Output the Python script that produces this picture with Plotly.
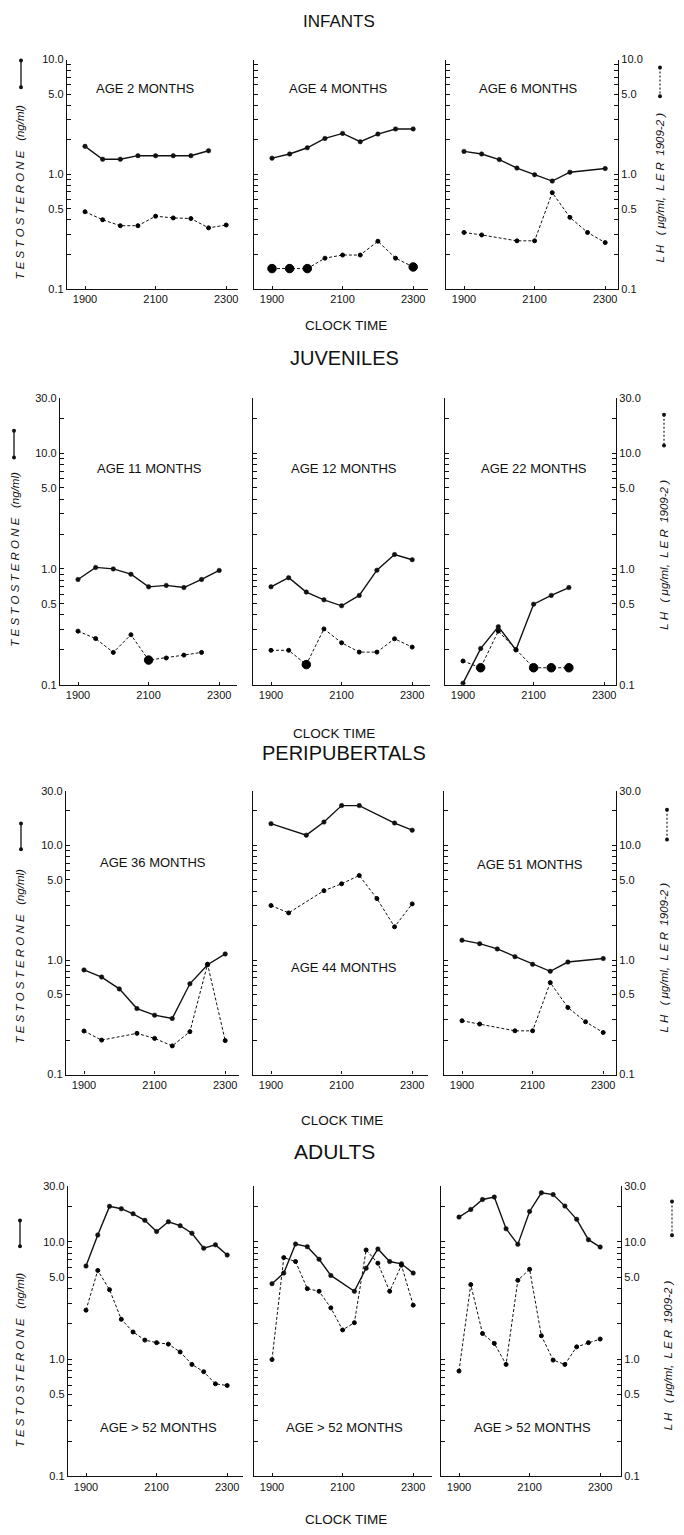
import math
import plotly.graph_objects as go

W, H = 684, 1535

# ---------------- data (clock times hhmm, values) ----------------
HALF = [1900, 1930, 2000, 2030, 2100, 2130, 2200, 2230, 2300]
TWENTY = [1900, 1920, 1940, 2000, 2020, 2040, 2100, 2120, 2140, 2200, 2220, 2240, 2300]

row_titles = ["INFANTS", "JUVENILES", "PERIPUBERTALS", "ADULTS"]
age_labels = [
    ["AGE 2 MONTHS", "AGE 4 MONTHS", "AGE 6 MONTHS"],
    ["AGE 11 MONTHS", "AGE 12 MONTHS", "AGE 22 MONTHS"],
    ["AGE 36 MONTHS", "AGE 44 MONTHS", "AGE 51 MONTHS"],
    ["AGE > 52 MONTHS", "AGE > 52 MONTHS", "AGE > 52 MONTHS"],
]

# Infants
inf2_t_time = [1900, 1930, 2000, 2030, 2100, 2130, 2200, 2230]
inf2_t = [1.75, 1.35, 1.35, 1.45, 1.45, 1.45, 1.45, 1.6]
inf2_lh_time = HALF
inf2_lh = [0.47, 0.40, 0.355, 0.355, 0.43, 0.415, 0.41, 0.34, 0.36]
inf2_lh_nd = []

inf4_t_time = HALF
inf4_t = [1.38, 1.5, 1.7, 2.05, 2.27, 1.92, 2.24, 2.48, 2.48]
inf4_lh_time = HALF
inf4_lh = [0.15, 0.15, 0.15, 0.185, 0.197, 0.197, 0.26, 0.185, 0.155]
inf4_lh_nd = [1900, 1930, 2000, 2300]

inf6_t_time = [1900, 1930, 2000, 2030, 2100, 2130, 2200, 2300]
inf6_t = [1.58, 1.5, 1.34, 1.13, 0.99, 0.87, 1.04, 1.12]
inf6_lh_time = [1900, 1930, 2030, 2100, 2130, 2200, 2230, 2300]
inf6_lh = [0.31, 0.295, 0.262, 0.262, 0.69, 0.42, 0.31, 0.253]
inf6_lh_nd = []

# Juveniles
juv11_t_time = HALF
juv11_t = [0.81, 1.03, 1.0, 0.9, 0.7, 0.72, 0.69, 0.81, 0.97]
juv11_lh_time = [1900, 1930, 2000, 2030, 2100, 2130, 2200, 2230]
juv11_lh = [0.29, 0.25, 0.19, 0.27, 0.163, 0.17, 0.18, 0.19]
juv11_lh_nd = [2100]

juv12_t_time = HALF
juv12_t = [0.70, 0.84, 0.63, 0.54, 0.48, 0.59, 0.975, 1.33, 1.2]
juv12_lh_time = HALF
juv12_lh = [0.198, 0.198, 0.149, 0.303, 0.23, 0.191, 0.191, 0.249, 0.211]
juv12_lh_nd = [2000]

juv22_t_time = [1900, 1930, 2000, 2030, 2100, 2130, 2200]
juv22_t = [0.103, 0.205, 0.317, 0.2, 0.496, 0.59, 0.69]
juv22_lh_time = [1900, 1930, 2000, 2030, 2100, 2130, 2200]
juv22_lh = [0.16, 0.14, 0.29, 0.2, 0.14, 0.14, 0.14]
juv22_lh_nd = [1930, 2100, 2130, 2200]

# Peripubertals
per36_t_time = HALF
per36_t = [0.82, 0.71, 0.56, 0.377, 0.33, 0.309, 0.62, 0.91, 1.13]
per36_lh_time = [1900, 1930, 2030, 2100, 2130, 2200, 2230, 2300]
per36_lh = [0.24, 0.20, 0.229, 0.207, 0.178, 0.237, 0.92, 0.198]
per36_lh_nd = []

per44_t_time = [1900, 2000, 2030, 2100, 2130, 2230, 2300]
per44_t = [15.5, 12.3, 16.0, 22.3, 22.3, 15.7, 13.6]
per44_lh_time = [1900, 1930, 2030, 2100, 2130, 2200, 2230, 2300]
per44_lh = [2.99, 2.58, 4.03, 4.63, 5.47, 3.44, 1.95, 3.09]
per44_lh_nd = []

per51_t_time = [1900, 1930, 2000, 2030, 2100, 2130, 2200, 2300]
per51_t = [1.49, 1.39, 1.25, 1.07, 0.917, 0.797, 0.96, 1.03]
per51_lh_time = [1900, 1930, 2030, 2100, 2130, 2200, 2230, 2300]
per51_lh = [0.295, 0.276, 0.241, 0.241, 0.635, 0.385, 0.289, 0.233]
per51_lh_nd = []

# Adults
adA_t_time = TWENTY
adA_t = [6.2, 11.4, 20.0, 19.1, 17.3, 15.2, 12.2, 14.8, 13.7, 11.8, 8.8, 9.4, 7.7]
adA_lh_time = TWENTY
adA_lh = [2.61, 5.69, 3.9, 2.18, 1.7, 1.45, 1.38, 1.34, 1.15, 0.9, 0.78, 0.615, 0.595]
adA_lh_nd = []

adB_t_time = [1900, 1920, 1940, 2000, 2020, 2040, 2120, 2140, 2200, 2220, 2240, 2300]
adB_t = [4.39, 5.4, 9.56, 9.07, 7.09, 5.16, 3.78, 5.95, 8.67, 6.78, 6.48, 5.4]
adB_lh_time = TWENTY
adB_lh = [0.99, 7.32, 6.78, 3.98, 3.78, 2.73, 1.77, 2.04, 8.5, 6.56, 3.78, 6.3, 2.88]
adB_lh_nd = []

adC_t_time = TWENTY
adC_t = [16.2, 18.8, 22.9, 24.0, 12.9, 9.49, 18.1, 26.1, 25.2, 20.1, 15.5, 10.4, 9.0]
adC_lh_time = TWENTY
adC_lh = [0.79, 4.31, 1.65, 1.36, 0.9, 4.69, 5.82, 1.58, 0.98, 0.9, 1.27, 1.38, 1.48]
adC_lh_nd = []

panels = [
    [(inf2_t_time, inf2_t, inf2_lh_time, inf2_lh, inf2_lh_nd),
     (inf4_t_time, inf4_t, inf4_lh_time, inf4_lh, inf4_lh_nd),
     (inf6_t_time, inf6_t, inf6_lh_time, inf6_lh, inf6_lh_nd)],
    [(juv11_t_time, juv11_t, juv11_lh_time, juv11_lh, juv11_lh_nd),
     (juv12_t_time, juv12_t, juv12_lh_time, juv12_lh, juv12_lh_nd),
     (juv22_t_time, juv22_t, juv22_lh_time, juv22_lh, juv22_lh_nd)],
    [(per36_t_time, per36_t, per36_lh_time, per36_lh, per36_lh_nd),
     (per44_t_time, per44_t, per44_lh_time, per44_lh, per44_lh_nd),
     (per51_t_time, per51_t, per51_lh_time, per51_lh, per51_lh_nd)],
    [(adA_t_time, adA_t, adA_lh_time, adA_lh, adA_lh_nd),
     (adB_t_time, adB_t, adB_lh_time, adB_lh, adB_lh_nd),
     (adC_t_time, adC_t, adC_lh_time, adC_lh, adC_lh_nd)],
]
row_ymax = [10.0, 30.0, 30.0, 30.0]

# ---------------- layout geometry (pixels) ----------------
col_px = [
    [(67, 238), (254, 428), (446, 618)],
    [(60, 237), (253, 430), (445, 616)],
    [(66, 239), (253, 428), (444, 616)],
    [(68, 243), (254, 432), (441, 621)],
]
PX_PER_HOUR = 35.3
row_px = [(54, 285), (395, 684), (791, 1077), (1189, 1482)]
title_y = [16, 355, 753, 1155]
title_x = [339, 344, 344, 334]
title_size = [17, 20, 20, 21]
clock_y = [322, 733, 1123, 1525]
clock_x = [346, 334, 342, 346]
age_pos = [
    [(145, 83), (338, 83), (528, 83)],
    [(149, 466), (344, 466), (534, 466)],
    [(153, 863), (344, 969), (530, 865)],
    [(158, 1433), (344, 1433), (532, 1433)],
]
ytitle_left = [(20, 188), (15, 558), (20, 958), (20, 1365)]
ytitle_right = [(660, 183), (664, 553), (664, 959), (668, 1360)]
leg_left = [(21, 55, 82), (14, 428, 455), (21, 824, 850), (20, 1224, 1250)]
leg_right = [(660, 62, 91), (664, 412, 443), (667, 810, 840), (672, 1205, 1239)]

FONT = "Liberation Sans"
INK = "#111111"


def fx(px):
    return px / W


def fy(py):
    return 1 - py / H


def hours(hhmm):
    return [h // 100 + (h % 100) / 60 for h in hhmm]


def log_ticks(ymax):
    vals, txt = [], []
    labels = {0.1: "0.1", 0.5: "0.5", 1.0: "1.0", 5.0: "5.0", 10.0: "10.0", 30.0: "30.0"}
    for dec in (0.1, 1.0, 10.0):
        for m in range(1, 10):
            v = round(m * dec, 4)
            if v > ymax + 1e-9:
                break
            vals.append(v)
            txt.append(labels.get(v, ""))
    return vals, txt


fig = go.Figure()
layout = {}
annotations = []
shapes = []

k = 0
for r in range(4):
    ytop, ybot = row_px[r]
    tv, tt = log_ticks(row_ymax[r])
    for c in range(3):
        k += 1
        xname = "x" if k == 1 else f"x{k}"
        yname = "y" if k == 1 else f"y{k}"
        xkey = "xaxis" if k == 1 else f"xaxis{k}"
        ykey = "yaxis" if k == 1 else f"yaxis{k}"
        x0, x1 = col_px[r][c]
        xmin = 19 - 18 / PX_PER_HOUR
        layout[xkey] = dict(
            domain=[fx(x0), fx(x1)], anchor=yname,
            range=[xmin, xmin + (x1 - x0) / PX_PER_HOUR],
            showline=True, linecolor=INK, linewidth=1.3, showgrid=False, zeroline=False,
            tickvals=[19, 21, 23], ticktext=["1900", "2100", "2300"],
            ticks="inside", ticklen=3, tickcolor=INK,
            tickfont=dict(family=FONT, size=11, color=INK), fixedrange=True,
        )
        ya = dict(
            domain=[fy(ybot), fy(ytop)], anchor=xname, type="log",
            range=[-1, math.log10(row_ymax[r])],
            showline=True, linecolor=INK, linewidth=1.3, showgrid=False, zeroline=False,
            tickvals=tv, ticktext=tt, ticks="inside", ticklen=4, tickcolor=INK,
            tickfont=dict(family=FONT, size=11, color=INK), fixedrange=True,
        )
        if c == 1:
            ya["showticklabels"] = False
        if c == 2:
            ya["side"] = "right"
            ya["mirror"] = "ticks"
        layout[ykey] = ya

        t_time, t_val, lh_time, lh_val, nd = panels[r][c]
        fig.add_trace(go.Scatter(
            x=hours(t_time), y=t_val, xaxis=xname, yaxis=yname, mode="lines+markers",
            line=dict(color=INK, width=1.4),
            marker=dict(color=INK, size=4.5, opacity=1, line=dict(color=INK, width=0.5)),
            showlegend=False, hoverinfo="skip"))
        sizes = [8.5 if t in nd else 4 for t in lh_time]
        fig.add_trace(go.Scatter(
            x=hours(lh_time), y=lh_val, xaxis=xname, yaxis=yname, mode="lines+markers",
            line=dict(color=INK, width=1.0, dash="3px,2px"),
            marker=dict(color="black", size=sizes, opacity=1, line=dict(color="black", width=1)),
            showlegend=False, hoverinfo="skip"))

        ax, ay = age_pos[r][c]
        annotations.append(dict(
            x=fx(ax), y=fy(ay), xref="paper", yref="paper", text=age_labels[r][c],
            showarrow=False, xanchor="center", yanchor="middle",
            font=dict(family=FONT, size=13, color=INK)))

    # row titles
    annotations.append(dict(
        x=fx(title_x[r]), y=fy(title_y[r]), xref="paper", yref="paper", text=row_titles[r],
        showarrow=False, xanchor="center", yanchor="middle",
        font=dict(family=FONT, size=title_size[r], color=INK)))
    annotations.append(dict(
        x=fx(clock_x[r]), y=fy(clock_y[r]), xref="paper", yref="paper", text="CLOCK TIME",
        showarrow=False, xanchor="center", yanchor="middle",
        font=dict(family=FONT, size=13.5, color=INK)))
    lx, lyc = ytitle_left[r]
    annotations.append(dict(
        x=fx(lx), y=fy(lyc), xref="paper", yref="paper",
        text="<i>T E S T O S T E R O N E   (ng/ml)</i>", textangle=-90,
        showarrow=False, xanchor="center", yanchor="middle",
        font=dict(family=FONT, size=11.5, color=INK)))
    rx, ryc = ytitle_right[r]
    annotations.append(dict(
        x=fx(rx), y=fy(ryc), xref="paper", yref="paper",
        text="<i>L H   ( μg/ml,  L E R  1909-2 )</i>", textangle=-90,
        showarrow=False, xanchor="center", yanchor="middle",
        font=dict(family=FONT, size=11.5, color=INK)))

    # key symbols
    gx, gy0, gy1 = leg_left[r]
    shapes.append(dict(type="line", xref="paper", yref="paper", x0=fx(gx), x1=fx(gx),
                       y0=fy(gy0), y1=fy(gy1), line=dict(color=INK, width=1.3)))
    for gy in (gy0, gy1):
        shapes.append(dict(type="circle", xref="paper", yref="paper",
                           x0=fx(gx - 2), x1=fx(gx + 2), y0=fy(gy + 2), y1=fy(gy - 2),
                           fillcolor=INK, line=dict(color=INK, width=0)))
    gx, gy0, gy1 = leg_right[r]
    shapes.append(dict(type="line", xref="paper", yref="paper", x0=fx(gx), x1=fx(gx),
                       y0=fy(gy0), y1=fy(gy1), line=dict(color=INK, width=1.1, dash="2px,2px")))
    for gy in (gy0, gy1):
        shapes.append(dict(type="circle", xref="paper", yref="paper",
                           x0=fx(gx - 2), x1=fx(gx + 2), y0=fy(gy + 2), y1=fy(gy - 2),
                           fillcolor=INK, line=dict(color=INK, width=0)))

fig.update_layout(
    width=W, height=H, autosize=False,
    margin=dict(l=0, r=0, t=0, b=0),
    paper_bgcolor="white", plot_bgcolor="white",
    annotations=annotations, shapes=shapes,
    **layout,
)
fig.write_html("out.html", config={"displayModeBar": False},
               post_script="document.body.style.margin='0';")
